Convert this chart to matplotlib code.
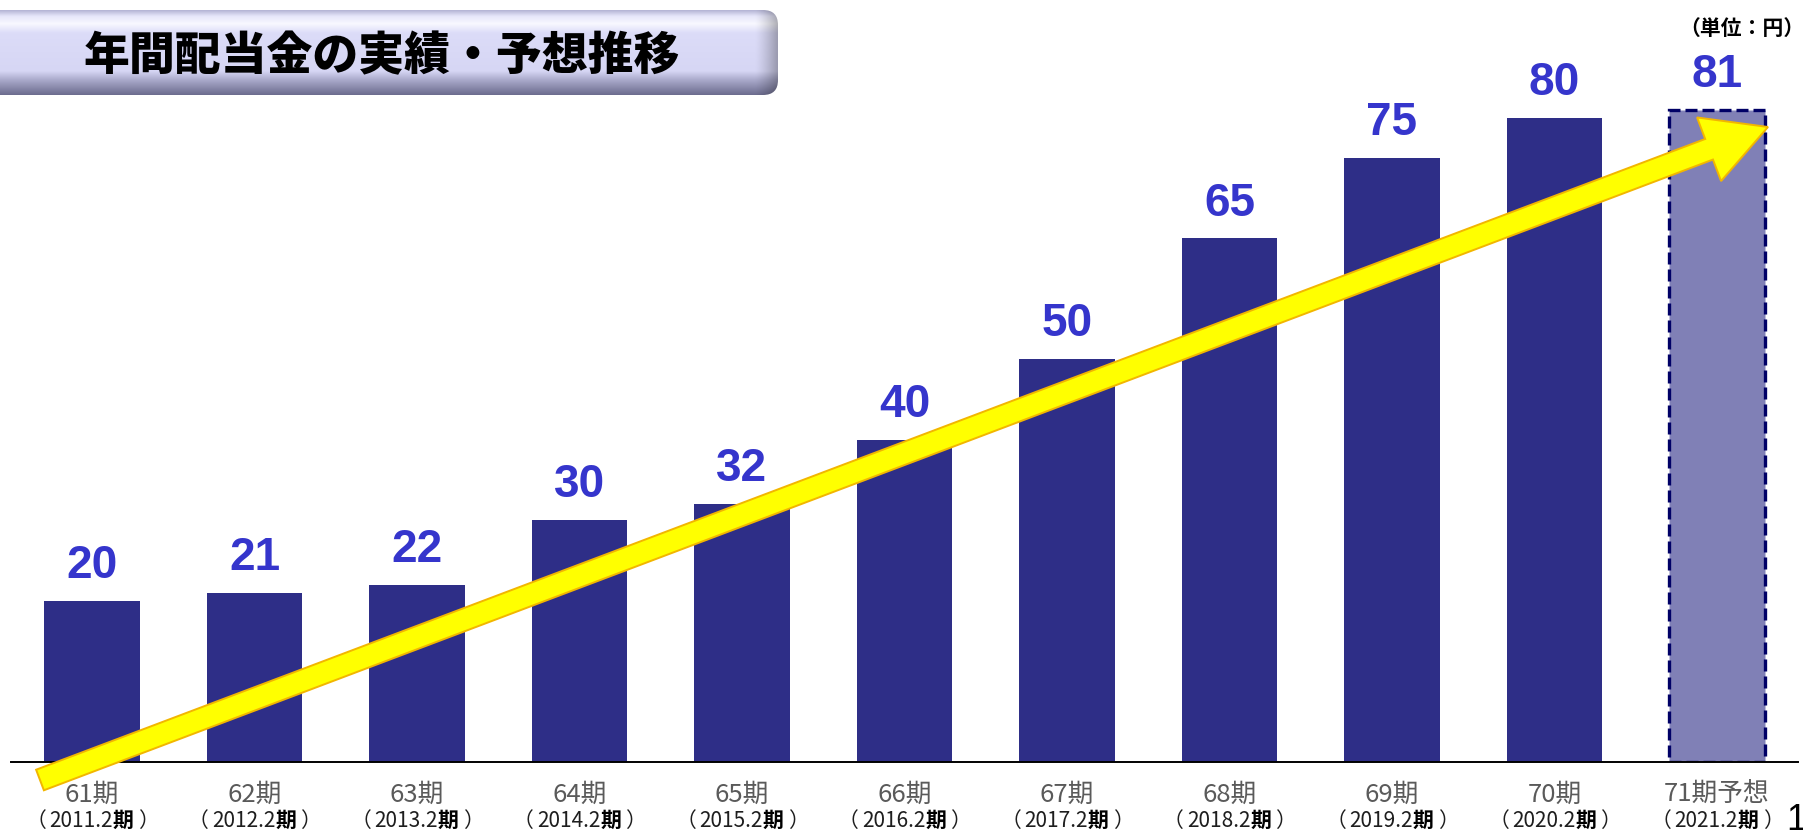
import numpy as np
import matplotlib
matplotlib.use("Agg")
import matplotlib.pyplot as plt
from matplotlib.patches import FancyBboxPatch, Polygon
from matplotlib.colors import to_rgb

# ---- data ----
periods = ["61期", "62期", "63期", "64期", "65期", "66期", "67期", "68期", "69期", "70期", "71期予想"]
fiscal_years = ["2011.2", "2012.2", "2013.2", "2014.2", "2015.2", "2016.2",
                "2017.2", "2018.2", "2019.2", "2020.2", "2021.2"]
dividends = [20, 21, 22, 30, 32, 40, 50, 65, 75, 80, 81]
forecast_index = 10
title = "年間配当金の実績・予想推移"
unit_label = "（単位：円）"

CJK = ["Noto Sans CJK JP", "DejaVu Sans"]
plt.rcParams["font.family"] = CJK

W, H, DPI = 1803, 832, 100
fig = plt.figure(figsize=(W / DPI, H / DPI), dpi=DPI)
fig.patch.set_facecolor("white")

# main bar axes (baseline 761.7 px from the top, 8.05 px per yen)
base_px = 761.7
x_left, x_right = 10.75, 1798.25
ax = fig.add_axes([x_left / W, (H - base_px) / H, (x_right - x_left) / W, base_px / H])
ax.set_xlim(-0.5, 10.5)
ax.set_ylim(0, base_px / 8.05)
ax.patch.set_alpha(0)
for s in ["top", "right", "left"]:
    ax.spines[s].set_visible(False)
ax.spines["bottom"].set_linewidth(1.4)
ax.spines["bottom"].set_color("black")
ax.set_xticks([])
ax.set_yticks([])

bar_w = 0.59
for i, v in enumerate(dividends):
    if i == forecast_index:
        ax.bar(i, v, width=bar_w, facecolor="#8080B6", edgecolor="#000066",
               linewidth=2.4, linestyle=(0, (3.6, 1.5)), zorder=2)
    else:
        ax.bar(i, v, width=bar_w, color="#2E2E87", zorder=2)
    ax.annotate(str(v), xy=(i, v), xytext=(0, 16.5), textcoords="offset points",
                ha="center", va="baseline", fontsize=33, fontweight="bold",
                family="Liberation Sans", color="#3535CC")

# period labels: "NN期" on the first line, "（YYYY.M期）" with a bold 期 below
renderer = fig.canvas.get_renderer()
line2_y = -42.5
for i, (p, fy) in enumerate(zip(periods, fiscal_years)):
    ax.annotate(p, xy=(i, 0), xytext=(0, -23.5), textcoords="offset points",
                ha="center", va="center", fontsize=18.5, color="#5A5A5A",
                annotation_clip=False)
    pieces = [("（", "normal", "#1E1E1E", 3),
              (fy, "normal", "#1E1E1E", 0),
              ("期", "bold", "black", 4),
              ("）", "normal", "#1E1E1E", 0)]
    txts, gaps = [], []
    for s, wgt, col, gap in pieces:
        t = ax.annotate(s, xy=(i, 0), xytext=(0, line2_y), textcoords="offset points",
                        ha="left", va="center", fontsize=15, fontweight=wgt,
                        color=col, annotation_clip=False)
        txts.append(t)
        gaps.append(gap)
    widths = [t.get_window_extent(renderer).width for t in txts]
    total = sum(widths) + sum(gaps[:-1])
    start = -total / 2
    for t, w, g in zip(txts, widths, gaps):
        t.set_position((start * 72 / DPI, line2_y))
        start += w + g

# overlay in pixel coordinates for the title panel and trend arrow
ov = fig.add_axes([0, 0, 1, 1], zorder=5)
ov.set_xlim(0, W)
ov.set_ylim(H, 0)
ov.axis("off")

# title panel with bevel shading
bx0, bx1, by0, by1 = -30, 778, 10, 95
panel = FancyBboxPatch((bx0, by0), bx1 - bx0, by1 - by0,
                       boxstyle="round,pad=0,rounding_size=15",
                       facecolor="none", edgecolor="none")
ov.add_patch(panel)
stops = [(0.0, "#B4B4D4"), (0.07, "#E6E6FA"), (0.16, "#F8F8FF"), (0.27, "#DCDCF8"),
         (0.72, "#D6D6F4"), (0.82, "#ABABCC"), (1.0, "#6C6C8E")]
ny, nx = 200, 400
fy_ = np.linspace(0, 1, ny)
prof = np.zeros((ny, 3))
for c in range(3):
    prof[:, c] = np.interp(fy_, [s[0] for s in stops], [to_rgb(s[1])[c] for s in stops])
img = np.repeat(prof[:, None, :], nx, axis=1)
xs = np.linspace(bx0, bx1, nx)
shade = 1 - 0.28 * np.clip((xs - (bx1 - 22)) / 22, 0, 1) ** 1.3
img = img * shade[None, :, None]
im = ov.imshow(img, extent=[bx0, bx1, by1, by0], aspect="auto", zorder=1, interpolation="bilinear")
im.set_clip_path(panel)
ov.text(382, 57, title, ha="center", va="center", fontsize=33, fontweight="black",
        color="black", zorder=3)

# unit
ov.text(1742, 28, unit_label, ha="center", va="center", fontsize=15, fontweight="bold",
        color="black")

# trend arrow
tail = np.array([40.0, 780.0])
tip = np.array([1768.0, 127.0])
shaft_w, head_w, head_l = 22.0, 68.0, 63.0
u = (tip - tail) / np.linalg.norm(tip - tail)
n = np.array([-u[1], u[0]])
b = tip - u * head_l
pts = [tail + n * shaft_w / 2, b + n * shaft_w / 2, b + n * head_w / 2, tip,
       b - n * head_w / 2, b - n * shaft_w / 2, tail - n * shaft_w / 2]
ov.add_patch(Polygon(pts, closed=True, facecolor="#FFFF00", edgecolor="#F2B600",
                     linewidth=1.4, joinstyle="miter", zorder=4))

# page number at the lower right edge
ov.text(1786, 803, "1", ha="left", va="top", fontsize=26, color="black",
        family="Liberation Sans")

fig.savefig("out.png", dpi=DPI, facecolor="white")
